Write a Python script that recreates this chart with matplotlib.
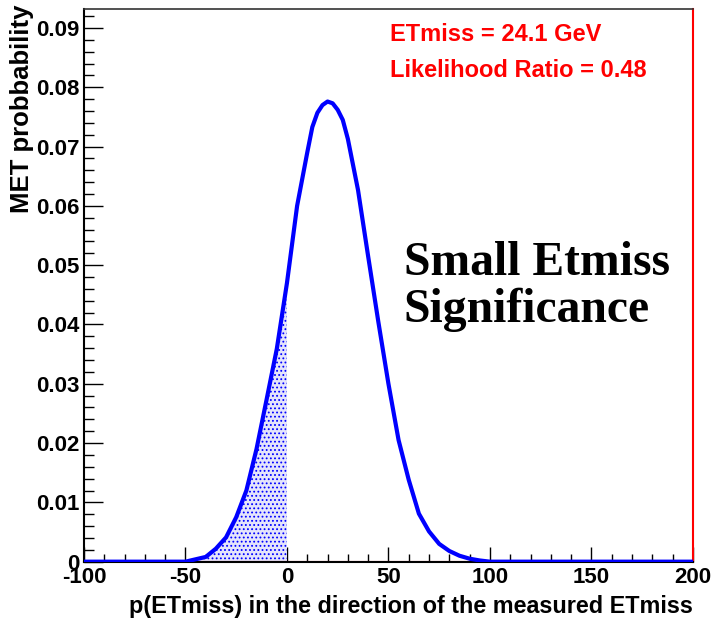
import numpy as np
import matplotlib
matplotlib.use("Agg")
import matplotlib.pyplot as plt
from matplotlib.ticker import MultipleLocator, FuncFormatter

# curve
p_et = [-100, -50, -45, -40, -35, -30, -25, -20, -15, -10, -5, 0,
        5, 10, 12.5, 15, 17.5, 20, 22.5, 25, 27.5, 30, 35, 40, 45, 50, 55, 60, 65, 70,
        75, 80, 85, 90, 95, 100, 200]
prob = [0, 0, 0.0004, 0.0008, 0.0022, 0.0041, 0.0075, 0.012, 0.019, 0.0274, 0.0359, 0.047,
        0.060, 0.069, 0.0733, 0.0757, 0.0770, 0.0776, 0.0773, 0.0762, 0.0745, 0.0713,
        0.0627, 0.0515, 0.0405, 0.030, 0.0205,
        0.0138, 0.0081, 0.0051, 0.003, 0.0018, 0.001, 0.0005, 0.0002, 0, 0]

et_miss = 24.1
lik_ratio = 0.48

plt.rcParams['font.family'] = ['Liberation Sans', 'DejaVu Sans']
plt.rcParams['axes.unicode_minus'] = False
plt.rcParams['hatch.linewidth'] = 0.8
plt.rcParams['hatch.color'] = 'blue'

fig = plt.figure(figsize=(7.18, 6.22), dpi=100)
ax = fig.add_axes([0.117, 0.097, 0.848, 0.8885])

x = np.array(p_et, dtype=float)
y = np.array(prob)

# shaded tail below zero
ax.fill_between(x, 0, y, where=x <= 0, facecolor='#e4e4fb', edgecolor='blue',
                hatch='....', linewidth=0, zorder=2)
ax.axhline(0, color='red', lw=1.5, zorder=2.5)
ax.plot(x, y, color='blue', lw=3, zorder=3, solid_joinstyle='round', solid_capstyle='round')

ax.set_xlim(-100, 200)
ax.set_ylim(0, 0.0932)

ax.xaxis.set_major_locator(MultipleLocator(50))
ax.xaxis.set_minor_locator(MultipleLocator(10))
ax.yaxis.set_major_locator(MultipleLocator(0.01))
ax.yaxis.set_minor_locator(MultipleLocator(0.002))
ax.yaxis.set_major_formatter(FuncFormatter(lambda v, pos: '0' if abs(v) < 1e-9 else f'{v:.2f}'))

ax.tick_params(axis='x', which='major', direction='in', length=11, width=1, pad=4)
ax.tick_params(axis='x', which='minor', direction='in', length=6, width=1)
ax.tick_params(axis='y', which='major', direction='in', length=13.5, width=1, pad=3)
ax.tick_params(axis='y', which='minor', direction='in', length=7, width=1)
ax.tick_params(labelsize=16)
for lab in ax.get_xticklabels() + ax.get_yticklabels():
    lab.set_fontweight('bold')

for s in ['left', 'bottom']:
    ax.spines[s].set_linewidth(1.5)
ax.spines['top'].set_color('#333333')
ax.spines['top'].set_linewidth(1.2)
ax.spines['right'].set_color('red')
ax.spines['right'].set_linewidth(1.5)

ax.set_xlabel('p(ETmiss) in the direction of the measured ETmiss', fontsize=16.8,
              fontweight='bold', loc='right', labelpad=5)
ax.set_ylabel('MET probbability', fontsize=18.5, fontweight='bold', loc='top', labelpad=0)
ax.yaxis.set_label_coords(-0.082, 1.008)

ax.text(0.502, 0.975, f'ETmiss = {et_miss} GeV', transform=ax.transAxes, color='red',
        fontsize=17, fontweight='bold', va='top')
ax.text(0.502, 0.91, f'Likelihood Ratio = {lik_ratio}', transform=ax.transAxes, color='red',
        fontsize=17, fontweight='bold', va='top')

ax.text(0.525, 0.434, 'Small Etmiss\nSignificance', transform=ax.transAxes,
        family='Liberation Serif', fontsize=34.3, fontweight='bold', va='baseline',
        linespacing=1.08)

plt.savefig('out.png', dpi=100)
